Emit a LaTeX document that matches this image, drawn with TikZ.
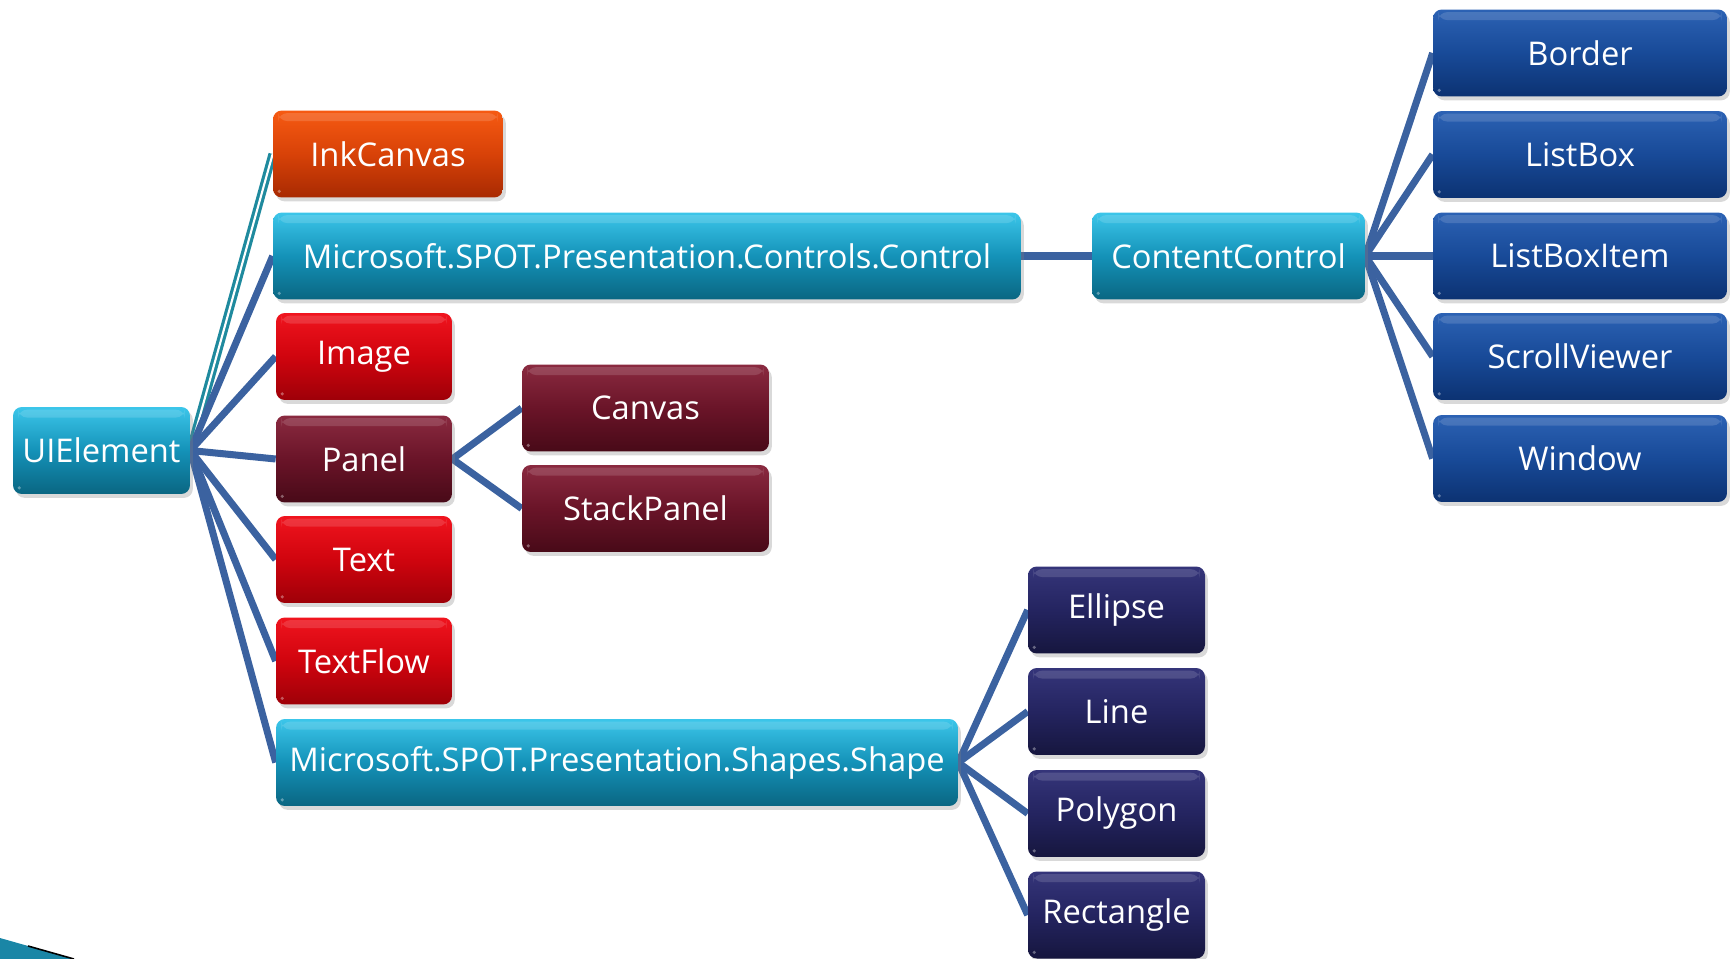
\documentclass[tikz,border=0pt]{standalone}
\usepackage{fontspec}
\setmainfont{Open Sans}
\usetikzlibrary{shadows,backgrounds}

\definecolor{linkblue}{HTML}{3B62A0}
\definecolor{linkteal}{HTML}{1F8A9E}
\definecolor{swoosh}{HTML}{1A86A6}

\definecolor{tealT}{HTML}{3CC6EA}\definecolor{tealM}{HTML}{1492B8}\definecolor{tealB}{HTML}{0A6682}
\definecolor{orangeT}{HTML}{F65A12}\definecolor{orangeM}{HTML}{D84208}\definecolor{orangeB}{HTML}{A82A02}
\definecolor{redT}{HTML}{F0141E}\definecolor{redM}{HTML}{D0040E}\definecolor{redB}{HTML}{9E0008}
\definecolor{maroonT}{HTML}{8A2A40}\definecolor{maroonM}{HTML}{6A1428}\definecolor{maroonB}{HTML}{480A18}
\definecolor{blueT}{HTML}{2C62B4}\definecolor{blueM}{HTML}{184A98}\definecolor{blueB}{HTML}{0C3272}
\definecolor{navyT}{HTML}{35357A}\definecolor{navyM}{HTML}{242460}\definecolor{navyB}{HTML}{16163E}

\tikzset{
  box/.style={rounded corners=5pt, text=white, inner sep=0pt,
    font=\fontsize{18.6}{22}\selectfont, minimum height=1.74cm,
    drop shadow={opacity=0.3, shadow xshift=1.6pt, shadow yshift=-2.2pt},
    path picture={
      \fill[white, opacity=0.14]
        ([xshift=3pt,yshift=-1.5pt]path picture bounding box.north west) rectangle
        ([xshift=-3pt,yshift=-6pt]path picture bounding box.north east);
      \fill[white, opacity=0.35]
        ([xshift=3.5pt,yshift=3.5pt]path picture bounding box.south west) circle (1pt);
    }},
  tealbox/.style={box, top color=tealT, bottom color=tealB, middle color=tealM},
  orangebox/.style={box, top color=orangeT, bottom color=orangeB, middle color=orangeM},
  redbox/.style={box, top color=redT, bottom color=redB, middle color=redM},
  maroonbox/.style={box, top color=maroonT, bottom color=maroonB, middle color=maroonM},
  bluebox/.style={box, top color=blueT, bottom color=blueB, middle color=blueM},
  navybox/.style={box, top color=navyT, bottom color=navyB, middle color=navyM},
  link/.style={draw=linkblue, line width=4pt},
  inklink/.style={draw=linkteal, double=white, line width=1.8pt, double distance=1.2pt},
}

\begin{document}
\begin{tikzpicture}[x=0.02cm, y=-0.02cm]
\useasboundingbox (0,0) rectangle (1730,959);

% root
\node[tealbox, minimum width=3.54cm] (ui) at (101.5,450.5) {UIElement};

% first level
\node[orangebox, minimum width=4.60cm] (ink) at (388,154) {InkCanvas};
\node[tealbox, minimum width=14.96cm] (ctrl) at (647,256) {Microsoft.SPOT.Presentation.Controls.Control};
\node[redbox, minimum width=3.52cm] (img) at (364,356.5) {Image};
\node[maroonbox, minimum width=3.52cm] (panel) at (364,459) {Panel};
\node[redbox, minimum width=3.52cm] (txt) at (364,559.5) {Text};
\node[redbox, minimum width=3.52cm] (tflow) at (364,661) {TextFlow};
\node[tealbox, minimum width=13.64cm] (shape) at (617,762.5) {Microsoft.SPOT.Presentation.Shapes.Shape};

% panels
\node[maroonbox, minimum width=4.94cm] (canvas) at (645.5,408) {Canvas};
\node[maroonbox, minimum width=4.94cm] (stack) at (645.5,508.5) {StackPanel};

% controls
\node[tealbox, minimum width=5.46cm] (cc) at (1228.5,256) {ContentControl};
\node[bluebox, minimum width=5.88cm] (border) at (1580,53) {Border};
\node[bluebox, minimum width=5.88cm] (lb) at (1580,154.5) {ListBox};
\node[bluebox, minimum width=5.88cm] (lbi) at (1580,256) {ListBoxItem};
\node[bluebox, minimum width=5.88cm] (sv) at (1580,356.5) {ScrollViewer};
\node[bluebox, minimum width=5.88cm] (win) at (1580,458.5) {Window};

% shapes
\node[navybox, minimum width=3.54cm] (ell) at (1116.5,610) {Ellipse};
\node[navybox, minimum width=3.54cm] (ln) at (1116.5,711.5) {Line};
\node[navybox, minimum width=3.54cm] (poly) at (1116.5,813.5) {Polygon};
\node[navybox, minimum width=3.54cm] (rect) at (1116.5,915) {Rectangle};

% connectors, kept below the boxes
\begin{pgfonlayer}{background}
  \draw[inklink] (ui.east) -- (ink.west);
  \foreach \c in {ctrl,img,panel,txt,tflow,shape}
    \draw[link] (ui.east) -- (\c.west);
  \foreach \c in {canvas,stack}
    \draw[link] (panel.east) -- (\c.west);
  \draw[link] (ctrl.east) -- (cc.west);
  \foreach \c in {border,lb,lbi,sv,win}
    \draw[link] (cc.east) -- (\c.west);
  \foreach \c in {ell,ln,poly,rect}
    \draw[link] (shape.east) -- (\c.west);
\end{pgfonlayer}

% corner ornament
\fill[swoosh] (0,938) -- (74,959) -- (0,959) -- cycle;
\draw[black, line width=0.9pt] (28,946) -- (74,959);
\end{tikzpicture}
\end{document}
